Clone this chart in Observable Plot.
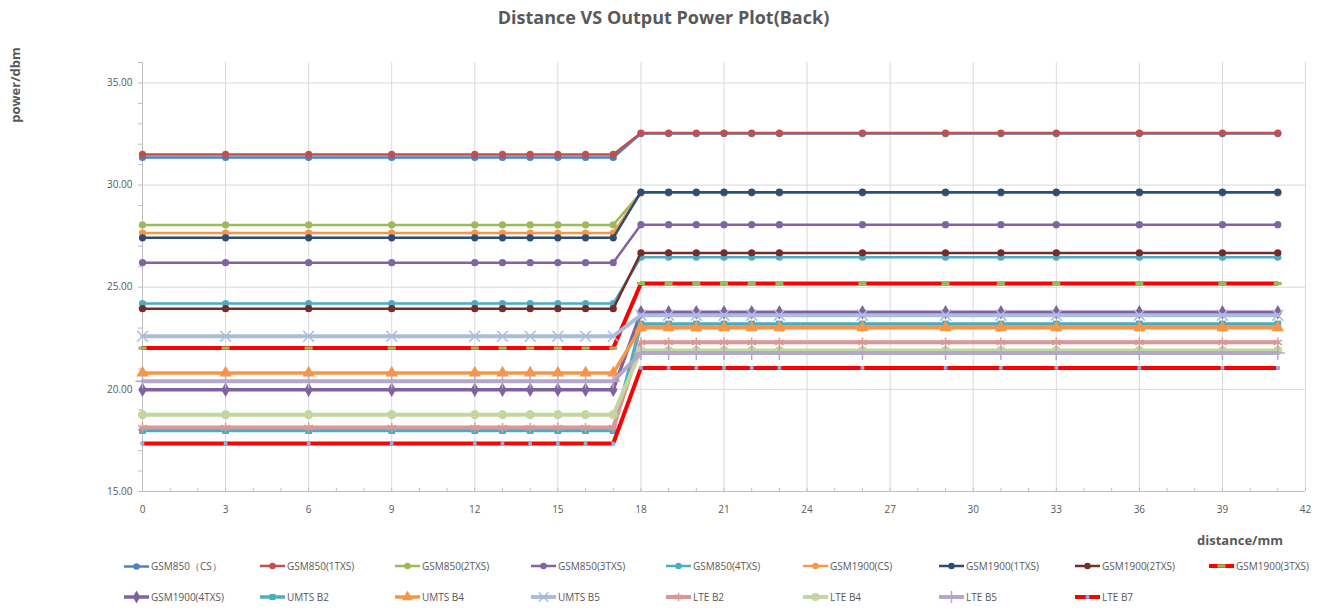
<!DOCTYPE html>
<html>
<head>
<meta charset="utf-8">
<script src="https://cdn.jsdelivr.net/npm/d3@7"></script>
<script src="https://cdn.jsdelivr.net/npm/@observablehq/plot@0.6"></script>
<style>
  body { margin: 0; background: #fff; }
  #wrap { position: relative; width: 1327px; height: 610px; overflow: hidden; font-family: "Liberation Sans Narrow", "Open Sans", sans-serif; color: #595959; }
  #title { height: 40px; width: 1327px; text-align: center; font-weight: bold; font-size: 18px; line-height: 34px; color: #595959; }
  #chart { height: 510px; }
  #ylab { position: absolute; left: 15px; top: 85px; transform: translate(-50%, -50%) rotate(-90deg); font-weight: bold; font-size: 13px; white-space: nowrap; }
  #xlab { position: absolute; left: 1240px; top: 540px; transform: translate(-50%, -50%); font-weight: bold; font-size: 13px; white-space: nowrap; }
  .li { position: absolute; display: flex; align-items: center; font-size: 10px; white-space: nowrap; transform: translateY(-50%); }
  .li svg { display: block; margin-right: 2px; }
</style>
</head>
<body>
<div id="wrap">
  <div id="title">Distance VS Output Power Plot(Back)</div>
  <div id="chart"></div>
  <div id="ylab">power/dbm</div>
  <div id="xlab">distance/mm</div>
</div>
<script>
// ---- data ----
const distance = [0, 3, 6, 9, 12, 13, 14, 15, 16, 17, 18, 19, 20, 21, 22, 23, 26, 29, 31, 33, 36, 39, 41];

const seriesNames = ["GSM850（CS）", "GSM850(1TXS)", "GSM850(2TXS)", "GSM850(3TXS)", "GSM850(4TXS)",
  "GSM1900(CS)", "GSM1900(1TXS)", "GSM1900(2TXS)", "GSM1900(3TXS)", "GSM1900(4TXS)",
  "UMTS B2", "UMTS B4", "UMTS B5", "LTE B2", "LTE B4", "LTE B5", "LTE B7"];

const gsm850_cs   = [31.35, 31.35, 31.35, 31.35, 31.35, 31.35, 31.35, 31.35, 31.35, 31.35, 32.52, 32.52, 32.52, 32.52, 32.52, 32.52, 32.52, 32.52, 32.52, 32.52, 32.52, 32.52, 32.52];
const gsm850_1txs = [31.50, 31.50, 31.50, 31.50, 31.50, 31.50, 31.50, 31.50, 31.50, 31.50, 32.55, 32.55, 32.55, 32.55, 32.55, 32.55, 32.55, 32.55, 32.55, 32.55, 32.55, 32.55, 32.55];
const gsm850_2txs = [28.05, 28.05, 28.05, 28.05, 28.05, 28.05, 28.05, 28.05, 28.05, 28.05, 29.62, 29.62, 29.62, 29.62, 29.62, 29.62, 29.62, 29.62, 29.62, 29.62, 29.62, 29.62, 29.62];
const gsm850_3txs = [26.20, 26.20, 26.20, 26.20, 26.20, 26.20, 26.20, 26.20, 26.20, 26.20, 28.06, 28.06, 28.06, 28.06, 28.06, 28.06, 28.06, 28.06, 28.06, 28.06, 28.06, 28.06, 28.06];
const gsm850_4txs = [24.20, 24.20, 24.20, 24.20, 24.20, 24.20, 24.20, 24.20, 24.20, 24.20, 26.47, 26.47, 26.47, 26.47, 26.47, 26.47, 26.47, 26.47, 26.47, 26.47, 26.47, 26.47, 26.47];
const gsm1900_cs   = [27.65, 27.65, 27.65, 27.65, 27.65, 27.65, 27.65, 27.65, 27.65, 27.65, 29.62, 29.62, 29.62, 29.62, 29.62, 29.62, 29.62, 29.62, 29.62, 29.62, 29.62, 29.62, 29.62];
const gsm1900_1txs = [27.42, 27.42, 27.42, 27.42, 27.42, 27.42, 27.42, 27.42, 27.42, 27.42, 29.65, 29.65, 29.65, 29.65, 29.65, 29.65, 29.65, 29.65, 29.65, 29.65, 29.65, 29.65, 29.65];
const gsm1900_2txs = [23.95, 23.95, 23.95, 23.95, 23.95, 23.95, 23.95, 23.95, 23.95, 23.95, 26.68, 26.68, 26.68, 26.68, 26.68, 26.68, 26.68, 26.68, 26.68, 26.68, 26.68, 26.68, 26.68];
const gsm1900_3txs = [22.02, 22.02, 22.02, 22.02, 22.02, 22.02, 22.02, 22.02, 22.02, 22.02, 25.18, 25.18, 25.18, 25.18, 25.18, 25.18, 25.18, 25.18, 25.18, 25.18, 25.18, 25.18, 25.18];
const gsm1900_4txs = [19.98, 19.98, 19.98, 19.98, 19.98, 19.98, 19.98, 19.98, 19.98, 19.98, 23.77, 23.77, 23.77, 23.77, 23.77, 23.77, 23.77, 23.77, 23.77, 23.77, 23.77, 23.77, 23.77];
const umts_b2 = [17.98, 17.98, 17.98, 17.98, 17.98, 17.98, 17.98, 17.98, 17.98, 17.98, 23.20, 23.20, 23.20, 23.20, 23.20, 23.20, 23.20, 23.20, 23.20, 23.20, 23.20, 23.20, 23.20];
const umts_b4 = [20.80, 20.80, 20.80, 20.80, 20.80, 20.80, 20.80, 20.80, 20.80, 20.80, 23.02, 23.02, 23.02, 23.02, 23.02, 23.02, 23.02, 23.02, 23.02, 23.02, 23.02, 23.02, 23.02];
const umts_b5 = [22.60, 22.60, 22.60, 22.60, 22.60, 22.60, 22.60, 22.60, 22.60, 22.60, 23.63, 23.63, 23.63, 23.63, 23.63, 23.63, 23.63, 23.63, 23.63, 23.63, 23.63, 23.63, 23.63];
const lte_b2 = [18.13, 18.13, 18.13, 18.13, 18.13, 18.13, 18.13, 18.13, 18.13, 18.13, 22.30, 22.30, 22.30, 22.30, 22.30, 22.30, 22.30, 22.30, 22.30, 22.30, 22.30, 22.30, 22.30];
const lte_b4 = [18.76, 18.76, 18.76, 18.76, 18.76, 18.76, 18.76, 18.76, 18.76, 18.76, 21.90, 21.90, 21.90, 21.90, 21.90, 21.90, 21.90, 21.90, 21.90, 21.90, 21.90, 21.90, 21.90];
const lte_b5 = [20.40, 20.40, 20.40, 20.40, 20.40, 20.40, 20.40, 20.40, 20.40, 20.40, 21.78, 21.78, 21.78, 21.78, 21.78, 21.78, 21.78, 21.78, 21.78, 21.78, 21.78, 21.78, 21.78];
const lte_b7 = [17.35, 17.35, 17.35, 17.35, 17.35, 17.35, 17.35, 17.35, 17.35, 17.35, 21.05, 21.05, 21.05, 21.05, 21.05, 21.05, 21.05, 21.05, 21.05, 21.05, 21.05, 21.05, 21.05];

const seriesValues = [gsm850_cs, gsm850_1txs, gsm850_2txs, gsm850_3txs, gsm850_4txs,
  gsm1900_cs, gsm1900_1txs, gsm1900_2txs, gsm1900_3txs, gsm1900_4txs,
  umts_b2, umts_b4, umts_b5, lte_b2, lte_b4, lte_b5, lte_b7];

const xTicks = [0, 3, 6, 9, 12, 15, 18, 21, 24, 27, 30, 33, 36, 39, 42];
const yTicks = [15, 20, 25, 30, 35];
const xMinor = d3.range(0, 43);
const yMinor = d3.range(15, 37);

// ---- styles ----
const dash = { draw(ctx) { ctx.moveTo(-4, -1.6); ctx.lineTo(4, -1.6); ctx.lineTo(4, 1.6); ctx.lineTo(-4, 1.6); ctx.closePath(); } };
const smallSq = { draw(ctx) { ctx.moveTo(-1.8, -1.8); ctx.lineTo(1.8, -1.8); ctx.lineTo(1.8, 1.8); ctx.lineTo(-1.8, 1.8); ctx.closePath(); } };

const styles = [
  { c: "#4F81BD", w: 2.5, sym: d3.symbolCircle, r: 3.6, mc: "#4F81BD" },
  { c: "#C0504D", w: 2.5, sym: d3.symbolCircle, r: 3.6, mc: "#C0504D" },
  { c: "#9BBB59", w: 2.5, sym: d3.symbolCircle, r: 3.6, mc: "#9BBB59" },
  { c: "#8064A2", w: 2.5, sym: d3.symbolCircle, r: 3.6, mc: "#8064A2" },
  { c: "#4BACC6", w: 2.5, sym: d3.symbolCircle, r: 3.6, mc: "#4BACC6" },
  { c: "#F79646", w: 2.5, sym: d3.symbolCircle, r: 3.6, mc: "#F79646" },
  { c: "#2C4D75", w: 2.5, sym: d3.symbolCircle, r: 3.6, mc: "#2C4D75" },
  { c: "#772C2A", w: 2.5, sym: d3.symbolCircle, r: 3.6, mc: "#772C2A" },
  { c: "#FF0000", w: 4, sym: dash, r: 3, mc: "#9BBB59" },
  { c: "#7F63A1", w: 3.5, sym: d3.symbolDiamond, r: 4.4, mc: "#7F63A1" },
  { c: "#4BACC6", w: 3.5, sym: d3.symbolSquare, r: 3.8, mc: "#4BACC6" },
  { c: "#F79646", w: 3.5, sym: d3.symbolTriangle, r: 4.6, mc: "#F79646" },
  { c: "#AABDDD", w: 4, sym: d3.symbolTimes, r: 5, mc: "#AABDDD", stroke: true },
  { c: "#D99795", w: 4, sym: d3.symbolAsterisk, r: 4.6, mc: "#D99795", stroke: true },
  { c: "#C4D6A0", w: 4, sym: d3.symbolCircle, r: 4.6, mc: "#C4D6A0" },
  { c: "#B4A7C9", w: 4, sym: d3.symbolPlus, r: 4.6, mc: "#B4A7C9", stroke: true },
  { c: "#FF0000", w: 4, sym: smallSq, r: 2, mc: "#8DB4E2" }
];

// ---- table ----
const rows = [];
seriesNames.forEach((name, i) => {
  distance.forEach((d, j) => rows.push({ series: name, idx: i, distance: d, power: seriesValues[i][j] }));
});

const seriesMarks = [];
seriesNames.forEach((name, i) => {
  const s = styles[i];
  const data = rows.filter(r => r.idx === i);
  seriesMarks.push(Plot.line(data, { x: "distance", y: "power", stroke: s.c, strokeWidth: s.w, strokeLinejoin: "round" }));
  if (s.stroke) {
    seriesMarks.push(Plot.dot(data, { x: "distance", y: "power", symbol: () => s.sym, r: s.r, stroke: s.mc, strokeWidth: 1.5, fill: "none" }));
  } else {
    seriesMarks.push(Plot.dot(data, { x: "distance", y: "power", symbol: () => s.sym, r: s.r, fill: s.mc, stroke: "none" }));
  }
});

const chart = Plot.plot({
  width: 1327,
  height: 510,
  marginLeft: 142,
  marginRight: 22,
  marginTop: 22,
  marginBottom: 59,
  style: { fontFamily: "'Liberation Sans Narrow', 'Open Sans', sans-serif", fontSize: "10px", color: "#595959", background: "white" },
  x: { domain: [0, 42] },
  y: { domain: [15, 36] },
  symbol: { type: "identity" },
  marks: [
    Plot.gridX(xTicks, { stroke: "#d9d9d9", strokeOpacity: 1 }),
    Plot.gridY(yTicks, { stroke: "#d9d9d9", strokeOpacity: 1 }),
    Plot.axisY(yMinor, { tickSize: 4, tickFormat: () => "", label: null, stroke: "#bfbfbf" }),
    Plot.axisY(yTicks, { tickSize: 0, tickPadding: 10, tickFormat: d3.format(".2f"), label: null, fill: "#595959" }),
    Plot.axisX(xMinor, { tickSize: 3, dy: -3, tickFormat: () => "", label: null, stroke: "#bfbfbf" }),
    Plot.axisX(xTicks, { tickSize: 0, tickPadding: 14, label: null, fill: "#595959" }),
    Plot.ruleX([0], { stroke: "#bfbfbf" }),
    Plot.ruleY([15], { stroke: "#bfbfbf" }),
    ...seriesMarks
  ]
});
document.getElementById("chart").appendChild(chart);

// ---- legend ----
const legendX = [124, 260, 395, 531, 666, 803, 939, 1075, 1209];
const legendY = [566, 597];
const wrap = d3.select("#wrap");
seriesNames.forEach((name, i) => {
  const s = styles[i];
  const row = Math.floor(i / 9), col = i % 9;
  const item = wrap.append("div").attr("class", "li")
    .style("left", legendX[col] + "px").style("top", legendY[row] + "px");
  const svg = item.append("svg").attr("width", 25).attr("height", 12);
  svg.append("line").attr("x1", 0).attr("x2", 25).attr("y1", 6).attr("y2", 6)
    .attr("stroke", s.c).attr("stroke-width", s.w);
  const path = d3.symbol(s.sym, Math.PI * s.r * s.r * 0.8)();
  const p = svg.append("path").attr("d", path).attr("transform", "translate(12.5,6)");
  if (s.stroke) p.attr("fill", "none").attr("stroke", s.mc).attr("stroke-width", 1.5);
  else p.attr("fill", s.mc);
  item.append("span").text(name);
});
</script>
</body>
</html>
